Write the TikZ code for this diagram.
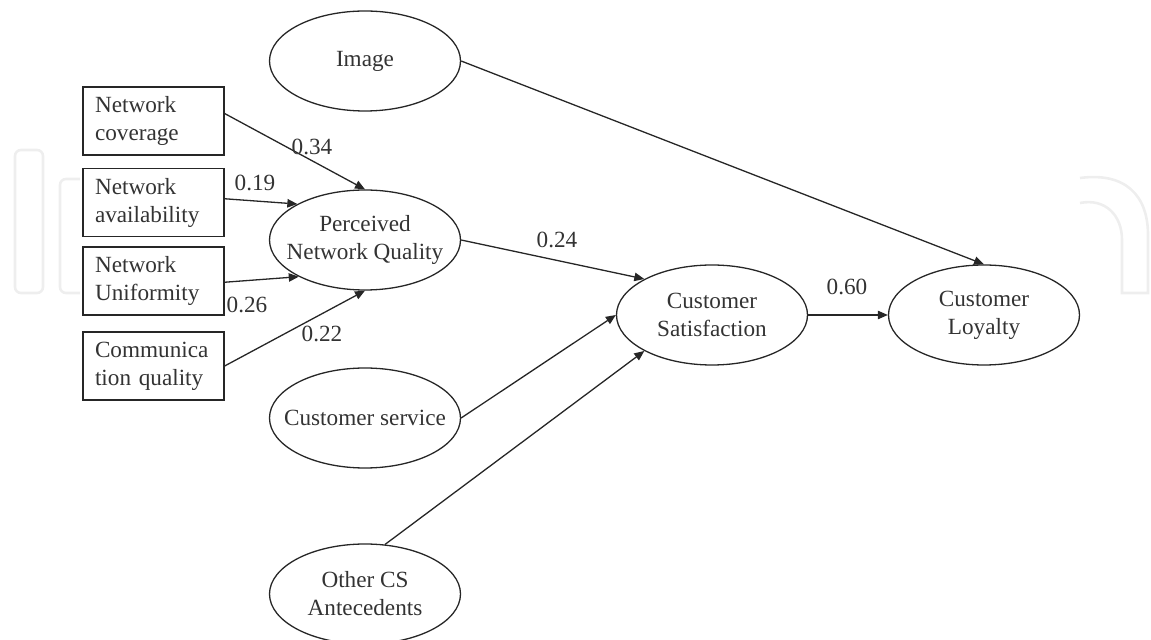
\documentclass[tikz,border=0pt]{standalone}
\usepackage{fontspec}
\setmainfont{Liberation Serif}
\usetikzlibrary{shapes.geometric,arrows.meta}
\definecolor{ink}{HTML}{262626}
\definecolor{txt}{HTML}{333333}
\definecolor{wm}{HTML}{EEEEEE}
\begin{document}
\begin{tikzpicture}[x=0.5pt,y=-0.5pt,
  font=\fontsize{11.6pt}{14pt}\selectfont,
  construct/.style={ellipse,draw=ink,line width=0.65pt,minimum width=95.5pt,minimum height=50pt,inner xsep=-14pt,inner ysep=0pt,align=center,text=txt},
  indicator/.style={rectangle,draw=ink,line width=0.65pt,minimum height=34pt,text width=58.5pt,inner xsep=6pt,inner ysep=0pt,align=left,text=txt},
  path/.style={draw=ink,line width=0.65pt,-{Triangle[length=5pt,width=4.2pt]}},
  coef/.style={text=txt,inner sep=1pt}]
\useasboundingbox (0,0) rectangle (1151,640);
% faint watermark
\draw[wm,line width=1.3pt,rounded corners=3pt] (15,150) rectangle (43,293);
\draw[wm,line width=1.3pt,rounded corners=3pt] (80,179) -- (60,179) -- (60,293) -- (80,293);
\draw[wm,line width=1.3pt] (1080,178) .. controls (1125,172) and (1148,195) .. (1148,235) -- (1148,293) -- (1122,293) -- (1122,240) .. controls (1122,215) and (1105,198) .. (1080,203);
% constructs
\node[construct] (img) at (365,61) {Image};
\node[construct] (pnq) at (365,240) {Perceived\\Network Quality};
\node[construct] (cs) at (365,418) {Customer service};
\node[construct] (oth) at (365,594) {Other CS\\Antecedents};
\node[construct] (sat) at (712,315) {Customer\\Satisfaction};
\node[construct] (loy) at (984,315) {Customer\\Loyalty};
% indicators
\node[indicator] (cov) at (153.5,121) {Network\\coverage};
\node[indicator] (ava) at (153.5,202.5) {Network\\availability};
\node[indicator] (uni) at (153.5,281) {Network\\Uniformity};
\node[indicator] (com) at (153.5,366) {Communica\\tion quality};
% paths
\draw[path] (cov.6) -- (pnq.north);
\draw[path] (ava.3) -- (pnq.152);
\draw[path] (uni.-1) -- (pnq.209);
\draw[path] (com.east) -- (pnq.south);
\draw[path] (pnq.east) -- (sat.152);
\draw[path] (img.east) -- (loy.north);
\draw[path] (cs.east) -- (sat.west);
\draw[path] (oth.68) -- (sat.208);
\draw[path] (sat.east) -- (loy.west);
% coefficients
\node[coef] (c1) at (312,147) {0.34};
\node[coef] (c2) at (255,183) {0.19};
\node[coef] (c3) at (247,305) {0.26};
\node[coef] (c4) at (322,334) {0.22};
\node[coef] (c5) at (557,240) {0.24};
\node[coef] (c6) at (847,287) {0.60};
\end{tikzpicture}
\end{document}
